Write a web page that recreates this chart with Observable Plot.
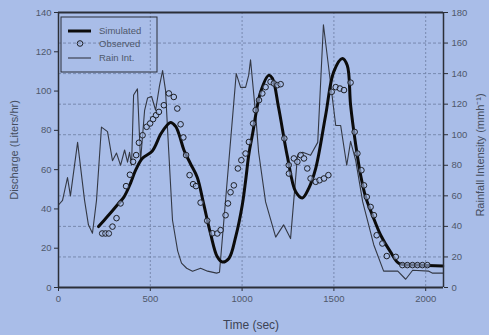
<!DOCTYPE html>
<html><head><meta charset="utf-8">
<script src="https://cdn.jsdelivr.net/npm/d3@7"></script>
<script src="https://cdn.jsdelivr.net/npm/@observablehq/plot@0.6"></script>
<style>
html,body{margin:0;padding:0;background:#a9bde8;overflow:hidden}
#chart svg{display:block}
</style></head><body><div id="chart"></div>
<script>
// ---- data ----
const xTicks = [0, 500, 1000, 1500, 2000];
const dischargeTicks = [0, 20, 40, 60, 80, 100, 120, 140];
const rainTicks = [0, 20, 40, 60, 80, 100, 120, 140, 160, 180];

const simTime = [218,265,320,356,392,420,456,511,556,590,610,638,660,683,719,756,790,828,865,892,928,965,1001,1020,1037,1056,1101,1145,1165,1199,1246,1292,1328,1363,1401,1455,1499,1546,1573,1591,1619,1646,1673,1710,1755,1809,1855,1955,2093];
const simQ    = [31,36,42,46,53,59.7,65.7,69.5,78,82.5,84,82,77,70,63,56,42.8,27.5,15.6,13,14.8,25.8,42,55,68,77.6,99.6,108,106.5,91.5,67,48.7,45.6,50.5,60.7,87.7,109.8,116.6,113,92.8,72.5,57,46,36.8,26.6,18,12.2,11.4,11];

const obsTime = [238,256,274,294,316,338,368,389,406,423,438,458,480,499,515,531,547,574,601,628,647,665,680,695,714,733,749,774,810,838,865,883,910,923,937,955,977,996,1019,1037,1060,1074,1092,1110,1128,1155,1173,1192,1210,1230,1254,1255,1282,1301,1319,1337,1355,1373,1401,1422,1446,1470,1488,1510,1533,1555,1591,1613,1628,1650,1664,1679,1700,1718,1733,1764,1788,1837,1873,1900,1928,1955,1982,2009];
const obsQ    = [27.5,27.5,27.5,31,35.3,42.8,51.6,57.4,64,67.4,73.7,77.5,81.8,83.5,85.7,87.7,89.4,92.8,98.8,97,91.1,83.1,76.4,67.4,57.2,52.6,51.6,43.2,34,27.6,27.5,29.2,36.8,42.8,48.5,52,60.6,64.8,68.2,74.1,83.5,90.3,95.4,98.8,102,104.7,103.9,103,103.5,75.9,62.3,58,65.7,64,67.4,65.7,60.6,55.5,53.8,54.6,55.5,57.2,99.6,102,101.3,100.5,104.3,79.2,68.2,59.7,52,46.1,41,36.8,26.6,22.4,16,15.6,11.4,11.4,11.4,11.4,11.4,11.4];

const rainTime = [0,22,49,65,104,142,163,185,207,234,267,294,316,338,360,376,387,398,409,430,447,469,485,507,529,550,567,583,600,621,649,670,698,730,774,812,861,877,968,992,1019,1036,1046,1074,1090,1128,1183,1226,1264,1302,1330,1373,1412,1443,1472,1510,1537,1570,1591,1619,1657,1717,1771,1848,1891,1929,2017,2038,2093];
const rainI    = [54,57,72,60,95,57,41,35.5,57,105,102,83,88,80,90,82,88.5,80,126,130,83,116,124,125,116,132,142,129,90,44,24,16,12.6,10.7,12.6,10.7,9.4,10,140,131,131,139,149,113,88.5,56,33,41,32,86.5,88.5,86.5,95,172,143.5,106,106,80,95.7,83,56,28,10.7,10.7,5.4,11.3,10.7,9.4,9.4];

// ---- layout ----
const W = 489, H = 335, mL = 58, mR = 46, mT = 12, mB = 48;
const k = 140 / 180; // rain -> discharge scale
const bg = "#a9bde8", ink = "#2b2f38", txt = "#4f586b", grid = "#7383a8";

const sim = simTime.map((t, i) => ({t, q: simQ[i]}));
const obs = obsTime.map((t, i) => ({t, q: obsQ[i]}));
const rain = rainTime.map((t, i) => ({t, q: rainI[i] * k}));

const plot = Plot.plot({
  width: W, height: H,
  marginLeft: mL, marginRight: mR, marginTop: mT, marginBottom: mB,
  style: {background: bg, fontFamily: "'Liberation Sans', Arial, sans-serif", fontSize: "9.5px", color: txt},
  x: {domain: [0, 2097]},
  y: {domain: [0, 140]},
  marks: [
    Plot.ruleY(rainTicks.filter(v => v > 0 && v < 180), {y: v => v * k, stroke: grid, strokeDasharray: "3,2", strokeWidth: 0.9}),
    Plot.ruleX(xTicks.filter(v => v > 0), {x: v => v, stroke: grid, strokeDasharray: "2,2", strokeWidth: 0.9}),
    Plot.axisX({ticks: xTicks, tickSize: 4, tickPadding: 4, tickFormat: d3.format("d"), label: null, stroke: ink}),
    Plot.axisY({ticks: dischargeTicks, tickSize: 4, tickPadding: 3, tickFormat: d3.format("d"), label: null, stroke: ink}),
    Plot.axisY({anchor: "right", ticks: rainTicks.map(v => v * k), tickSize: 4, tickPadding: 4,
      tickFormat: v => String(Math.round(v / k)), label: null, stroke: ink}),
    Plot.line(rain, {x: "t", y: "q", stroke: "#333844", strokeWidth: 1.1}),
    Plot.line(sim, {x: "t", y: "q", stroke: "#0c0c0c", strokeWidth: 3, curve: "catmull-rom"}),
    Plot.dot(obs, {x: "t", y: "q", r: 2.8, stroke: "#1e2026", strokeWidth: 1, fill: bg, fillOpacity: 0.6}),
    Plot.ruleY([140], {stroke: ink, strokeWidth: 2}),
    Plot.ruleY([0], {stroke: ink, strokeWidth: 2}),
    Plot.ruleX([0], {stroke: ink, strokeWidth: 1.5}),
    Plot.ruleX([2097], {stroke: ink, strokeWidth: 1.5})
  ]
});
document.getElementById("chart").appendChild(plot);

// ---- titles & legend ----
const svg = d3.select(plot);
const font = "'Liberation Sans', Arial, sans-serif";
svg.append("text").attr("transform", "translate(15,150) rotate(-90)")
  .attr("text-anchor", "middle").attr("dominant-baseline", "middle")
  .attr("font-family", font).attr("font-size", 11).attr("fill", "#454d5e").text("Discharge (Liters/hr)");
svg.append("text").attr("transform", "translate(481,155) rotate(-90)")
  .attr("text-anchor", "middle").attr("dominant-baseline", "middle")
  .attr("font-family", font).attr("font-size", 11).attr("fill", "#454d5e").text("Rainfall Intensity (mmh\u207B\u00B9)");
svg.append("text").attr("x", 251).attr("y", 326)
  .attr("text-anchor", "middle").attr("dominant-baseline", "middle")
  .attr("font-family", font).attr("font-size", 12).attr("fill", "#3d4455").text("Time (sec)");

const lg = svg.append("g");
lg.append("rect").attr("x", 61).attr("y", 17).attr("width", 96).attr("height", 55)
  .attr("fill", "none").attr("stroke", ink).attr("stroke-width", 1);
lg.append("line").attr("x1", 68).attr("x2", 91).attr("y1", 31).attr("y2", 31).attr("stroke", "#0c0c0c").attr("stroke-width", 3);
lg.append("circle").attr("cx", 80).attr("cy", 43.5).attr("r", 2.8).attr("fill", "none").attr("stroke", "#1e2026");
lg.append("line").attr("x1", 68).attr("x2", 91).attr("y1", 58).attr("y2", 58).attr("stroke", "#333844").attr("stroke-width", 1.1);
const labels = ["Simulated", "Observed", "Rain Int."], ly = [31, 44, 58];
labels.forEach((s, i) => lg.append("text").attr("x", 99).attr("y", ly[i])
  .attr("text-anchor", "start").attr("dominant-baseline", "middle")
  .attr("font-family", font).attr("font-size", 9.5).attr("fill", txt).text(s));
</script>
</body></html>
